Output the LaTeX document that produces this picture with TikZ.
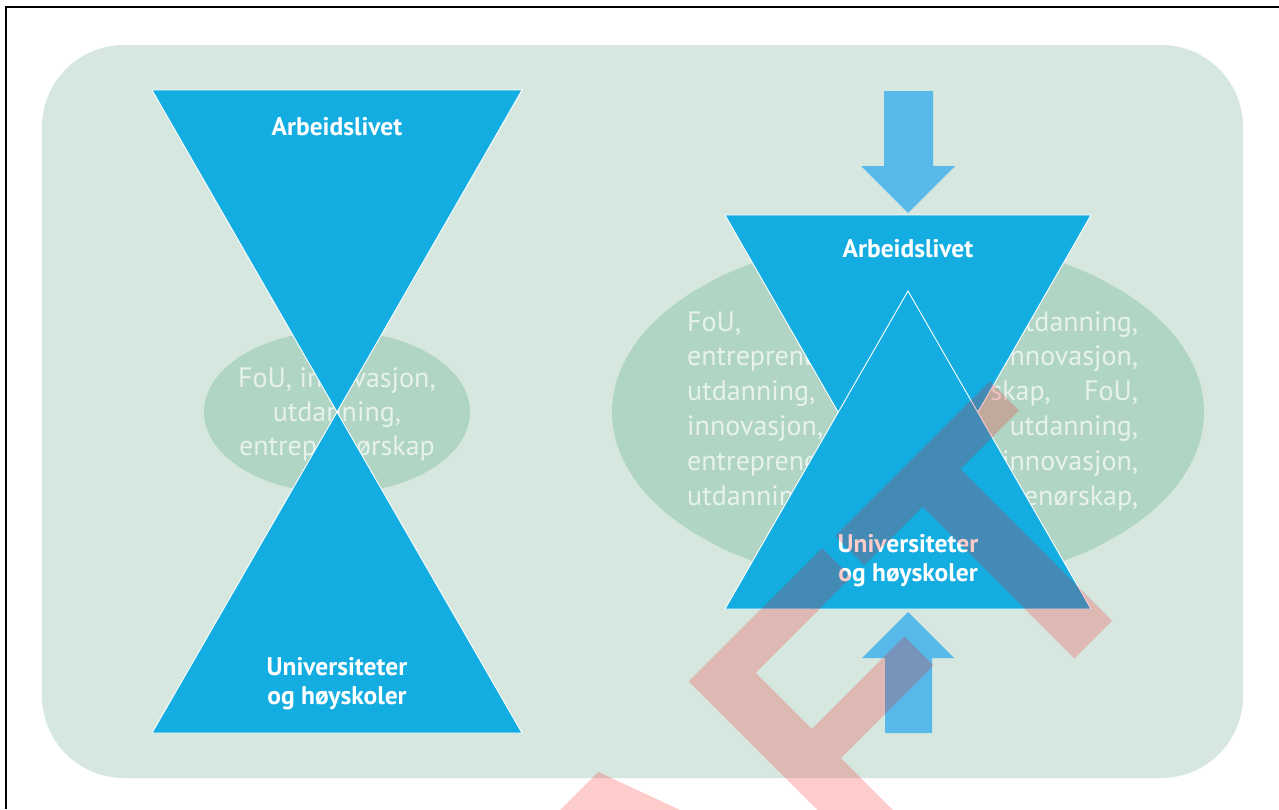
\documentclass[tikz,border=0pt]{standalone}
\usepackage{fontspec}
\setmainfont{PT Sans}
\newfontfamily\wmfont[Kerning=Off]{Liberation Sans}
\definecolor{bgpanel}{HTML}{D6E7DF}
\definecolor{ellfill}{HTML}{B0D5C5}
\definecolor{triblue}{HTML}{14ADE2}
\definecolor{arrblue}{HTML}{57B9E9}
\tikzset{
  tri/.style={fill=triblue, draw=white, line width=0.9pt, line join=miter},
  arrowshape/.style={fill=arrblue},
  lbl/.style={text=white, font=\bfseries\fontsize{25.5}{30}\selectfont, inner sep=0pt},
  elltext/.style={text=white, text opacity=0.7, font=\fontsize{28}{34.8}\selectfont, inner sep=0pt},
  wm/.style={text=red, text opacity=0.2, font=\wmfont\bfseries\fontsize{372}{372}\selectfont, inner sep=0pt}
}
\begin{document}
\begin{tikzpicture}[x=1pt,y=-1pt]
\useasboundingbox (0,0) rectangle (1279,809);
\fill[white] (0,0) rectangle (1279,809);
% frame (top and left edges)
\draw[black, line width=2pt] (6,809) -- (6,7) -- (1279,7);
% panel
\fill[bgpanel, rounded corners=82pt] (42,45) rectangle (1243,778);
% ellipses
\fill[ellfill] (337,412) ellipse [x radius=133pt, y radius=81pt];
\fill[ellfill] (908,412) ellipse [x radius=296pt, y radius=175pt];
% left ellipse text
\node[elltext, anchor=base] (l1) at (337,387) {FoU, innovasjon,};
\node[elltext, anchor=base] (l2) at (337,421) {utdanning,};
\node[elltext, anchor=base] (l3) at (337,455) {entreprenørskap};
% right ellipse text (justified)
\node[elltext, anchor=base west] (r1) at (687,331.0) {\makebox[451pt][s]{FoU, innovasjon, utdanning,}};
\node[elltext, anchor=base west] (r2) at (687,365.8) {\makebox[451pt][s]{entreprenørskap, FoU, innovasjon,}};
\node[elltext, anchor=base west] (r3) at (687,400.6) {\makebox[451pt][s]{utdanning, entreprenørskap, FoU,}};
\node[elltext, anchor=base west] (r4) at (687,435.4) {\makebox[451pt][s]{innovasjon, utdanning,}};
\node[elltext, anchor=base west] (r5) at (687,470.2) {\makebox[451pt][s]{entreprenørskap, FoU, innovasjon,}};
\node[elltext, anchor=base west] (r6) at (687,505.0) {\makebox[451pt][s]{utdanning, entreprenørskap,}};
% left hourglass
\path[tri] (152,90) -- (522,90) -- (337,412) -- cycle;
\path[tri] (337,412) -- (522,733) -- (152,733) -- cycle;
% right overlapping triangles
\path[tri] (725,215) -- (1091,215) -- (908,534) -- cycle;
\path[tri] (908,291) -- (1091,609) -- (725,609) -- cycle;
% arrows
\fill[arrowshape] (884,91) -- (933,91) -- (933,166) -- (955,166) -- (908,213) -- (861,166) -- (884,166) -- cycle;
\fill[arrowshape] (885,733) -- (932,733) -- (932,658) -- (954,658) -- (908,612) -- (862,658) -- (885,658) -- cycle;
% labels
\node[lbl, anchor=base] (aL) at (337,135) {Arbeidslivet};
\node[lbl, anchor=base] (uL1) at (337,675) {Universiteter};
\node[lbl, anchor=base] (uL2) at (337,704) {og høyskoler};
\node[lbl, anchor=base] (aR) at (908,257) {Arbeidslivet};
\node[lbl, anchor=base] (uR1) at (908,552) {Universiteter};
\node[lbl, anchor=base] (uR2) at (908,581) {og høyskoler};
% watermark
\node[wm, anchor=base east, rotate=45] (wmark) at (1174.5,559.3) {DRAFT};
\end{tikzpicture}
\end{document}
